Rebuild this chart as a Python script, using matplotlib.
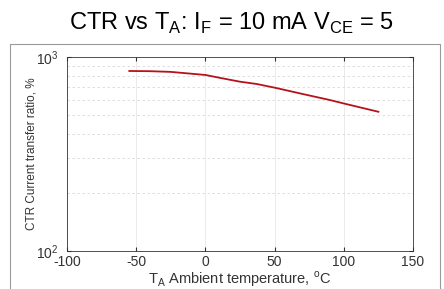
import matplotlib.pyplot as plt
from matplotlib.patches import Rectangle
from matplotlib.ticker import LogLocator, NullFormatter, FixedLocator

# CTR vs ambient temperature
temp = [-55, -40, -25, 0, 10, 25, 37, 50, 68, 90, 100, 125]
ctr = [847, 845, 838, 808, 782, 746, 726, 695, 650, 600, 576, 522]

xticks = [-100, -50, 0, 50, 100, 150]

plt.rcParams['font.family'] = ['Liberation Sans', 'DejaVu Sans']

fig = plt.figure(figsize=(4.44, 2.89), dpi=100)
fig.patches.append(Rectangle((10 / 444, -0.05), 430 / 444, 1 - 44 / 289 + 0.05,
                             transform=fig.transFigure, fill=False,
                             edgecolor='#9a9a9a', linewidth=0.8))
fig.text(231 / 444, 1 - 23 / 289,
         r'CTR vs T$_{\mathregular{A}}$: I$_{\mathregular{F}}$ = 10 mA V$_{\mathregular{CE}}$ = 5',
         ha='center', va='center', fontsize=17)

ax = fig.add_axes([67 / 444, 1 - 251 / 289, 346 / 444, 194 / 289])
ax.plot(temp, ctr, color='#b5121b', linewidth=1.3)

ax.set_yscale('log')
ax.set_ylim(100, 1000)
ax.set_xlim(-100, 150)
ax.xaxis.set_major_locator(FixedLocator(xticks))
ax.set_xticklabels([str(t) for t in xticks])
ax.yaxis.set_major_locator(FixedLocator([100, 1000]))
ax.yaxis.set_minor_locator(LogLocator(subs=range(2, 10)))
ax.yaxis.set_minor_formatter(NullFormatter())

ax.grid(True, which='major', axis='x', color='#ebebeb', linewidth=0.7)
ax.grid(True, which='minor', axis='y', color='#d8d8d8', linewidth=0.6, linestyle=(0, (3, 3)))
ax.tick_params(which='both', direction='in', top=True, right=True,
               labelsize=10, colors='#333333', length=3)
ax.tick_params(axis='x', pad=3)
ax.tick_params(axis='y', pad=6)
ax.tick_params(which='minor', length=0)
for s in ax.spines.values():
    s.set_color('#333333')
    s.set_linewidth(0.6)

ax.set_ylabel('CTR Current transfer ratio, %', fontsize=8.5, color='#333333', labelpad=-1)
ax.set_xlabel(r'T$_{\mathregular{A}}$ Ambient temperature, $^{\mathregular{o}}$C', fontsize=10.5,
              color='#333333', labelpad=0)

fig.savefig('out.png', dpi=100)
